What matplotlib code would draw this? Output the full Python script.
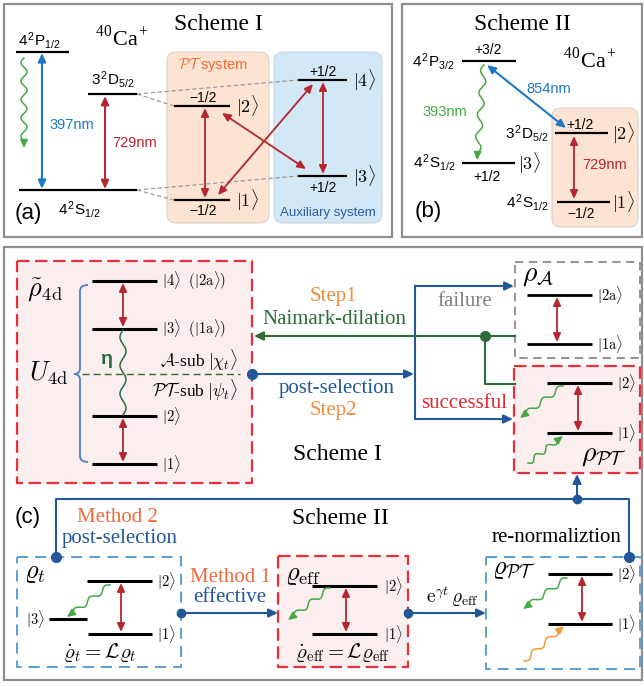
import numpy as np
import matplotlib
matplotlib.use("Agg")
import matplotlib.pyplot as plt
from matplotlib.patches import Rectangle, FancyBboxPatch, PathPatch
from matplotlib.path import Path

plt.rcParams["mathtext.fontset"] = "cm"
plt.rcParams["lines.scale_dashes"] = False

SANS = "Liberation Sans"
SERIF = "Liberation Serif"

# ---- text content -------------------------------------------------------
titles = ["Scheme I", "Scheme II"]
panel_tags = ["(a)", "(b)", "(c)"]
ion = r"$^{\mathregular{40}}$Ca$^{\mathregular{+}}$"
terms_a = [r"4$^{\mathregular{2}}$P$_{\mathregular{1/2}}$",
           r"3$^{\mathregular{2}}$D$_{\mathregular{5/2}}$",
           r"4$^{\mathregular{2}}$S$_{\mathregular{1/2}}$"]
terms_b = [r"4$^{\mathregular{2}}$P$_{\mathregular{3/2}}$",
           r"3$^{\mathregular{2}}$D$_{\mathregular{5/2}}$",
           r"4$^{\mathregular{2}}$S$_{\mathregular{1/2}}$",
           r"4$^{\mathregular{2}}$S$_{\mathregular{1/2}}$"]
wavelengths_a = ["397nm", "729nm"]
wavelengths_b = ["393nm", "854nm", "729nm"]
spins_a = ["\u22121/2", "\u22121/2", "+1/2", "+1/2"]      # |2>, |1>, |4>, |3>
spins_b = ["+3/2", "+1/2", "+1/2", "\u22121/2"]           # P, |3>, |2>, |1>
kets_a = [r"$|2\rangle$", r"$|1\rangle$", r"$|4\rangle$", r"$|3\rangle$"]
kets_b = [r"$|3\rangle$", r"$|2\rangle$", r"$|1\rangle$"]
subsystems_a = [r"$\mathcal{PT}$ system", "Auxiliary system"]
kets_4d = [r"$|4\rangle\ \ (|2\mathrm{a}\rangle)$", r"$|3\rangle\ \ (|1\mathrm{a}\rangle)$",
           r"$|2\rangle$", r"$|1\rangle$"]
kets_anc = [r"$|2\mathrm{a}\rangle$", r"$|1\mathrm{a}\rangle$"]
kets_pt = [r"$|2\rangle$", r"$|1\rangle$"]
sub_labels = [r"$\mathcal{A}$-sub $|\chi_t\rangle$", r"$\mathcal{PT}$-sub $|\psi_t\rangle$"]
steps = ["Step1", "Naimark-dilation", "post-selection", "Step2"]
outcomes = ["failure", "successful"]
methods = [("Method 2", "post-selection"), ("Method 1", "effective")]
states = [r"$\tilde{\rho}_{4\mathrm{d}}$", r"$U_{4\mathrm{d}}$", r"$\rho_{\mathcal{A}}$",
          r"$\rho_{\mathcal{PT}}$", r"$\varrho_t$", r"$\varrho_{\mathrm{eff}}$",
          r"$\varrho_{\mathcal{PT}}$"]
equations = [r"$\dot{\varrho}_t = \mathcal{L}\varrho_t$",
             r"$\dot{\varrho}_{\mathrm{eff}} = \mathcal{L}\varrho_{\mathrm{eff}}$",
             r"$\mathrm{e}^{\gamma t}\,\varrho_{\mathrm{eff}}$"]
renorm = "re-normaliztion"

# ---- colours ------------------------------------------------------------
RED = "#b5262e"
BLUE_L = "#1f78c4"
GREEN_W = "#45a844"
GREEN_D = "#2d6b3b"
NAVY = "#22579a"
ORANGE = "#f08c3e"
ORANGE_R = "#ef6a3a"
PINK = "#fbeeee"
RED_DASH = "#e8303a"
FRAME = "#8f8f8f"

fig = plt.figure(figsize=(6.44, 6.86), dpi=100)
ax = fig.add_axes([0, 0, 1, 1])
ax.set_xlim(0, 644)
ax.set_ylim(686, 0)
ax.axis("off")


def txt(x, y, s, size, color="black", ha="center", va="center", family=SERIF, **kw):
    ax.text(x, y, s, fontsize=size, color=color, ha=ha, va=va, family=family, **kw)


def level(x0, x1, y, lw=1.6):
    ax.plot([x0, x1], [y, y], color="black", lw=lw, solid_capstyle="butt")


def darrow(x0, y0, x1, y1, color=RED, lw=1.3, ms=9):
    ax.annotate("", xy=(x1, y1), xytext=(x0, y0),
                arrowprops=dict(arrowstyle="<|-|>,head_length=0.55,head_width=0.25",
                                color=color, lw=lw, shrinkA=0, shrinkB=0,
                                mutation_scale=ms))


def arrow(x0, y0, x1, y1, color=NAVY, lw=1.5, ms=9):
    ax.annotate("", xy=(x1, y1), xytext=(x0, y0),
                arrowprops=dict(arrowstyle="-|>,head_length=0.6,head_width=0.28",
                                color=color, lw=lw, shrinkA=0, shrinkB=0,
                                mutation_scale=ms))


def dot(x, y, color=NAVY, ms=7):
    ax.plot([x], [y], "o", color=color, ms=ms, zorder=5)


def wavy(p0, p1, color=GREEN_W, cycles=4, amp=3.0, lw=1.1, head=True, straight=7):
    p0 = np.asarray(p0, float)
    p1 = np.asarray(p1, float)
    d = p1 - p0
    L = np.hypot(*d)
    u = d / L
    n = np.array([-u[1], u[0]])
    Lw = L - straight if head else L
    t = np.linspace(0, Lw, 300)
    pts = p0 + np.outer(t, u) + np.outer(amp * np.sin(2 * np.pi * cycles * t / Lw), n)
    ax.plot(pts[:, 0], pts[:, 1], color=color, lw=lw)
    if head:
        e = p0 + u * (Lw - 1)
        arrow(e[0], e[1], p1[0], p1[1], color=color, lw=lw, ms=8)


def dbox(x, y, w, h, edge, fill="none", dashes=(7, 3.5), lw=1.5):
    ax.add_patch(Rectangle((x, y), w, h, facecolor=fill, edgecolor=edge, lw=lw,
                           linestyle=(0, dashes), zorder=1))


def brace(xb, y0, y1, xtip, ytip, xend, color="#4d7fc8", lw=1.3, r=6):
    verts = [(xend, y0), (xb, y0), (xb, y0 + r),
             (xb, ytip - r), (xb, ytip), (xtip, ytip),
             (xb, ytip), (xb, ytip + r),
             (xb, y1 - r), (xb, y1), (xend, y1)]
    codes = [Path.MOVETO, Path.CURVE3, Path.CURVE3,
             Path.LINETO, Path.CURVE3, Path.CURVE3,
             Path.CURVE3, Path.CURVE3,
             Path.LINETO, Path.CURVE3, Path.CURVE3]
    ax.add_patch(PathPatch(Path(verts, codes), facecolor="none", edgecolor=color, lw=lw))


# ---- panel frames -------------------------------------------------------
for (x, y, w, h) in [(4, 4, 388, 233), (402, 4, 240, 233), (4, 247, 638, 433)]:
    ax.add_patch(Rectangle((x, y), w, h, facecolor="none", edgecolor=FRAME, lw=1.6))

# ---- panel (a) ----------------------------------------------------------
ax.add_patch(FancyBboxPatch((167, 52), 102, 171, boxstyle="round,pad=0,rounding_size=9",
                            facecolor="#fde4d2", edgecolor="#d9d2cc", lw=0.8))
ax.add_patch(FancyBboxPatch((274, 52), 108, 171, boxstyle="round,pad=0,rounding_size=9",
                            facecolor="#d2e8f7", edgecolor="#c9d6e0", lw=0.8))
txt(213, 64, subsystems_a[0], 10.5, "#f26a36", family=SANS)
txt(328, 213, subsystems_a[1], 9.5, "#2b5ca8", family=SANS)

txt(218, 25, titles[0], 17)
txt(122, 38, ion, 16)
level(16, 69, 52)
level(88, 137, 94)
level(19, 137, 190)
txt(40, 41, terms_a[0], 11, family=SANS)
txt(113, 80, terms_a[1], 11, family=SANS)
txt(80, 210, terms_a[2], 11, family=SANS)
txt(28, 213, panel_tags[0], 16, family=SANS)

wavy((24, 58), (24, 148), cycles=4.5, amp=3)
darrow(42, 53, 42, 189, color=BLUE_L, lw=1.6)
txt(49, 125, wavelengths_a[0], 10.5, BLUE_L, ha="left", family=SANS)
darrow(105, 96, 105, 189, color=RED, lw=1.5)
txt(112, 143, wavelengths_a[1], 10.5, RED, ha="left", family=SANS)

for (xa, ya, xb, yb) in [(137, 94, 298, 80), (137, 94, 174, 106),
                         (137, 190, 298, 176), (137, 190, 174, 200)]:
    ax.plot([xa, xb], [ya, yb], color="#9a9a9a", lw=0.9, linestyle=(0, (3, 2)))

lv_a = [(174, 230, 106), (174, 230, 200), (298, 347, 80), (298, 347, 176)]
spin_y = [98, 211, 72, 188]
for (x0, x1, y), s, sy, k in zip(lv_a, spins_a, spin_y, kets_a):
    level(x0, x1, y)
    txt((x0 + x1) / 2 + 1, sy, s, 10, family=SANS)
    txt(x1 + 6, y, k, 13, ha="left")

darrow(205, 108, 205, 198)
darrow(323, 82, 323, 174)
darrow(222, 113, 306, 169)
darrow(313, 84, 218, 195)

# ---- panel (b) ----------------------------------------------------------
ax.add_patch(FancyBboxPatch((552, 108), 86, 119, boxstyle="round,pad=0,rounding_size=9",
                            facecolor="#fde4d2", edgecolor="#d9d2cc", lw=0.8))
txt(522, 25, titles[1], 17)
txt(590, 60, ion, 16)
level(462, 516, 61)
txt(488, 50, spins_b[0], 10, family=SANS)
txt(434, 62, terms_b[0], 11, family=SANS)
wavy((484, 65), (477, 160), cycles=4, amp=3)
txt(445, 112, wavelengths_b[0], 10.5, GREEN_W, family=SANS)
darrow(487, 65, 566, 128, color=BLUE_L, lw=1.5)
txt(549, 89, wavelengths_b[1], 10.5, BLUE_L, family=SANS)

level(462, 515, 163)
txt(487, 177, spins_b[1], 10, family=SANS)
txt(435, 163, terms_b[2], 11, family=SANS)
txt(518, 163, kets_b[0], 13, ha="left")

level(555, 608, 133)
txt(580, 125, spins_b[2], 10, family=SANS)
txt(527, 134, terms_b[1], 11, family=SANS)
txt(612, 133, kets_b[1], 13, ha="left")
darrow(574, 136, 574, 199)
txt(605, 165, wavelengths_b[2], 10.5, RED, family=SANS)

level(557, 610, 202)
txt(581, 214, spins_b[3], 10, family=SANS)
txt(528, 203, terms_b[3], 11, family=SANS)
txt(612, 202, kets_b[2], 13, ha="left")
txt(428, 212, panel_tags[1], 16, family=SANS)

# ---- panel (c), Scheme I ------------------------------------------------
dbox(17, 261, 235, 222, RED_DASH, PINK, dashes=(9, 4), lw=1.6)
lv_4d = [281, 329, 416, 464]
for y, k in zip(lv_4d, kets_4d):
    level(92, 157, y, lw=2.2)
    txt(162, y, k, 10.5, ha="left")
darrow(123, 283, 123, 327)
darrow(123, 418, 123, 462)
wavy((123, 330), (123, 415), cycles=3, amp=3, head=False, color=GREEN_D)
txt(113, 359, "\u03b7", 14, GREEN_D, ha="right", family=SANS, weight="bold")
ax.plot([82, 240], [374, 374], color=GREEN_D, lw=1.0, linestyle=(0, (5, 3)))
txt(238, 360, sub_labels[0], 12.5, ha="right")
txt(238, 390, sub_labels[1], 12.5, ha="right")
brace(80, 285, 462, 74, 374, 88)
txt(27, 290, states[0], 19, ha="left")
txt(29, 373, states[1], 19, ha="left")

dot(252, 374)
arrow(252, 374, 414, 374)
ax.plot([415, 415], [286, 419], color=NAVY, lw=1.5)
arrow(415, 286, 514, 286)
arrow(415, 419, 513, 419)
arrow(515, 336, 254, 336, color=GREEN_D)
dot(485, 336, color=GREEN_D)
ax.plot([485, 485, 515], [336, 384, 384], color=GREEN_D, lw=1.5)
txt(465, 301, outcomes[0], 15, "#808080")
txt(464, 404, outcomes[1], 15, "#e8262f")

txt(333, 297, steps[0], 15, ORANGE)
txt(334, 319, steps[1], 15, GREEN_D)
txt(337, 389, steps[2], 15, NAVY)
txt(333, 411, steps[3], 15, ORANGE)
txt(337, 455, titles[0], 17)

dbox(515, 262, 125, 96, "#8a8a8a", "white", dashes=(6, 4), lw=1.3)
txt(522, 276, states[2], 20, ha="left")
for y, k in zip([295, 344], kets_anc):
    level(527, 592, y, lw=2.0)
    txt(597, y, k, 10.5, ha="left")
darrow(557, 297, 557, 342)

dbox(514, 366, 126, 107, RED_DASH, PINK, dashes=(9, 4), lw=1.6)
for y, k in zip([383, 433], kets_pt):
    level(547, 612, y, lw=2.2)
    txt(617, y, k, 10.5, ha="left")
darrow(578, 385, 578, 431)
wavy((563, 386), (520, 418), cycles=2.5, amp=2.5)
wavy((528, 463), (563, 436), cycles=2.5, amp=2.5)
txt(604, 456, states[3], 20)

# ---- panel (c), Scheme II -----------------------------------------------
ax.plot([56, 56, 629, 629], [557, 499, 499, 557], color=NAVY, lw=1.5)
dot(56, 557)
dot(629, 557)
dot(577, 499, ms=6)
arrow(577, 499, 577, 474)
txt(28, 518, panel_tags[2], 16, family=SANS)
txt(117, 517, methods[0][0], 15, ORANGE_R)
txt(120, 538, methods[0][1], 15, NAVY)
txt(340, 518, titles[1], 17)

dbox(17, 557, 164, 110, "#5a9fd6", "none", dashes=(8, 5), lw=1.4)
txt(24, 574, states[4], 19, ha="left")
level(87, 152, 581, lw=2.2)
level(88, 152, 634, lw=2.2)
level(49, 87, 619, lw=2.2)
txt(157, 581, kets_pt[0], 10.5, ha="left")
txt(157, 634, kets_pt[1], 10.5, ha="left")
txt(45, 619, kets_b[0], 10.5, ha="right")
darrow(121, 583, 121, 632)
wavy((110, 585), (67, 617), cycles=2.5, amp=2.5)
txt(100, 652, equations[0], 15)

dot(181, 613, ms=6)
arrow(181, 613, 278, 613)
txt(230, 578, methods[1][0], 15, ORANGE_R)
txt(230, 598, methods[1][1], 15, NAVY)

dbox(278, 556, 130, 111, RED_DASH, PINK, dashes=(9, 4), lw=1.6)
txt(285, 576, states[5], 19, ha="left")
level(312, 377, 586, lw=2.2)
level(312, 377, 634, lw=2.2)
txt(384, 586, kets_pt[0], 10.5, ha="left")
txt(384, 634, kets_pt[1], 10.5, ha="left")
darrow(346, 588, 346, 632)
wavy((330, 588), (288, 620), cycles=2.5, amp=2.5)
txt(343, 653, equations[1], 15)

dot(408, 613, ms=6)
arrow(408, 613, 486, 613)
txt(452, 597, equations[2], 14)

dbox(486, 557, 154, 112, "#5a9fd6", "none", dashes=(8, 5), lw=1.4)
txt(557, 537, renorm, 15)
txt(492, 570, states[6], 19, ha="left")
level(548, 612, 574, lw=2.2)
level(548, 612, 624, lw=2.2)
txt(617, 574, kets_pt[0], 10.5, ha="left")
txt(617, 624, kets_pt[1], 10.5, ha="left")
darrow(582, 576, 582, 622)
wavy((567, 578), (523, 609), cycles=2.5, amp=2.5)
wavy((524, 661), (564, 626), cycles=2.5, amp=2.5, color="#f39a35")

fig.savefig("out.png", dpi=100)
